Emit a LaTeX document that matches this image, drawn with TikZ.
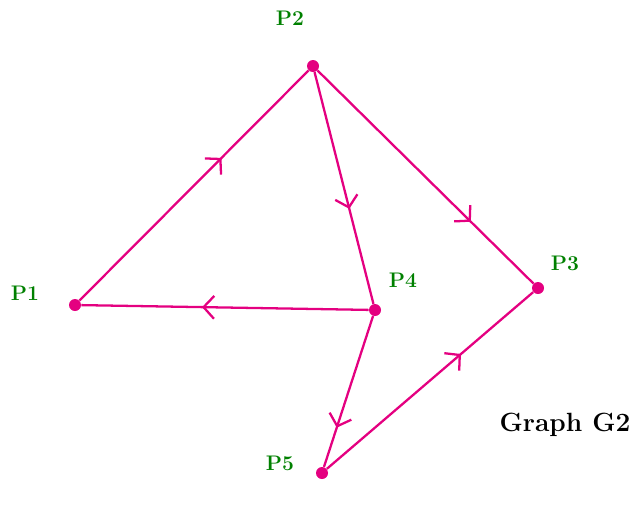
\documentclass[tikz,border=0pt]{standalone}
\usetikzlibrary{
    arrows.meta,
    decorations.markings
}
\definecolor{edgepink}{RGB}{228,0,128}
\definecolor{lblgreen}{RGB}{0,128,0}
\tikzset{
  vtx/.style={
    circle,
    fill=edgepink,
    inner sep=0pt,
    minimum size=0.24cm
  },
  lbl/.style={
    text=lblgreen,
    font=\bfseries\large
  },
  edge/.style={
    edgepink,
    line width=1.3pt,
    postaction={decorate},
    decoration={markings,
      mark=at position #1 with {\arrow{Straight Barb[length=6pt,width=13pt,line width=1.3pt]}}}
  }
}
\begin{document}
\begin{tikzpicture}[x=0.02cm,y=-0.02cm]
    \useasboundingbox (0,0) rectangle (635,508);
    % 頂点
    \node[vtx] (P1) at (75,305) {};
    \node[vtx] (P2) at (313,66) {};
    \node[vtx] (P3) at (538,288) {};
    \node[vtx] (P4) at (375,310) {};
    \node[vtx] (P5) at (322,473) {};

    % ラベル
    \node[lbl] (L1) at (25,293) {P1};
    \node[lbl] (L2) at (290,18) {P2};
    \node[lbl] (L3) at (565,263) {P3};
    \node[lbl] (L4) at (403,280) {P4};
    \node[lbl] (L5) at (280,463) {P5};
    \node[font=\bfseries\fontsize{15}{18}\selectfont] (title) at (565,425) {Graph G2};

    % 辺
    \draw[edge=0.62] (P1) -- (P2);
    \draw[edge=0.59] (P2) -- (P4);
    \draw[edge=0.71] (P2) -- (P3);
    \draw[edge=0.58] (P4) -- (P1);
    \draw[edge=0.74] (P4) -- (P5);
    \draw[edge=0.65] (P5) -- (P3);
\end{tikzpicture}
\end{document}
